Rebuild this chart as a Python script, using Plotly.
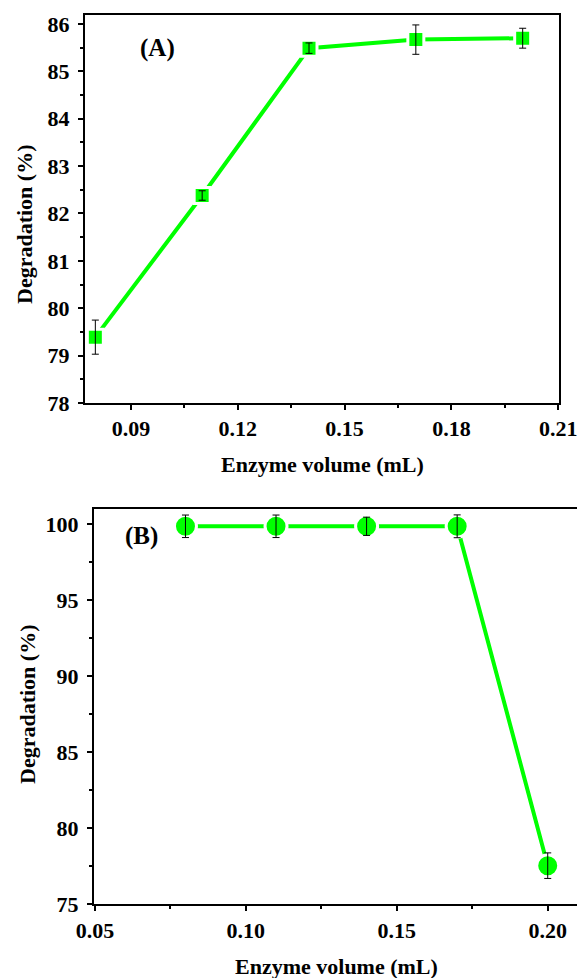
import plotly.graph_objects as go

# ---- data ----
vol_a = [0.08, 0.11, 0.14, 0.17, 0.20]
deg_a = [79.39, 82.38, 85.49, 85.67, 85.70]
err_a = [0.36, 0.10, 0.11, 0.31, 0.21]

vol_b = [0.08, 0.11, 0.14, 0.17, 0.20]
deg_b = [99.85, 99.85, 99.85, 99.85, 77.54]
err_b = [0.74, 0.74, 0.60, 0.75, 0.84]

xt_a = [0.09, 0.12, 0.15, 0.18, 0.21]
yt_a = [78, 79, 80, 81, 82, 83, 84, 85, 86]
xt_b = [0.05, 0.10, 0.15, 0.20]
yt_b = [75, 80, 85, 90, 95, 100]

GREEN = "#00ff00"
FONT = "Liberation Serif, Times New Roman, serif"
W, H = 577, 978

fig = go.Figure()

# panel A
fig.add_trace(go.Scatter(x=vol_a, y=deg_a, mode="lines+markers",
                         line=dict(color=GREEN, width=4),
                         marker=dict(symbol="square", size=16, color=GREEN,
                                     line=dict(color="white", width=3)),
                         xaxis="x", yaxis="y", showlegend=False))
fig.add_trace(go.Scatter(x=vol_a, y=deg_a, mode="markers",
                         marker=dict(size=1, color="rgba(0,0,0,0)"),
                         error_y=dict(type="data", array=err_a, color="black",
                                      thickness=1, width=3.5),
                         xaxis="x", yaxis="y", showlegend=False))
# panel B
fig.add_trace(go.Scatter(x=vol_b, y=deg_b, mode="lines+markers",
                         line=dict(color=GREEN, width=4),
                         marker=dict(symbol="circle", size=22, color=GREEN,
                                     line=dict(color="white", width=3)),
                         xaxis="x2", yaxis="y2", showlegend=False))
fig.add_trace(go.Scatter(x=vol_b, y=deg_b, mode="markers",
                         marker=dict(size=1, color="rgba(0,0,0,0)"),
                         error_y=dict(type="data", array=err_b, color="black",
                                      thickness=1, width=3.5),
                         xaxis="x2", yaxis="y2", showlegend=False))

tickfont = dict(family=FONT, size=22, color="black", weight="bold")
common = dict(showgrid=False, zeroline=False, showline=True, linecolor="black",
              linewidth=2, ticks="outside", ticklen=5, tickwidth=2,
              tickcolor="black", tickfont=tickfont, mirror=True,
              automargin=False, ticklabeloverflow="allow")


def bold(vals, fmt):
    return ["<b>" + format(v, fmt) + "</b>" for v in vals]


A_L, A_R, A_T, A_B = 85, 559, 14.7, 403
B_L, B_R, B_T, B_B = 94, 577, 508.5, 904.3

fig.update_layout(
    width=W, height=H, margin=dict(l=0, r=0, t=0, b=0, autoexpand=False),
    paper_bgcolor="white", plot_bgcolor="white",
    xaxis=dict(domain=[A_L / W, A_R / W], range=[0.0771, 0.2102],
               tickvals=xt_a, ticktext=bold(xt_a, ".2f"), ticklabelstandoff=0,
               minor=dict(dtick=0.015, tick0=0.075, ticks="outside", ticklen=3,
                          tickwidth=2, tickcolor="black"),
               anchor="y", **common),
    yaxis=dict(domain=[1 - A_B / H, 1 - A_T / H], range=[78, 86.196],
               tickvals=yt_a, ticktext=bold(yt_a, "d"), ticklabelstandoff=4,
               minor=dict(dtick=0.5, tick0=78, ticks="outside", ticklen=3,
                          tickwidth=2, tickcolor="black"),
               anchor="x", **common),
    xaxis2=dict(domain=[B_L / W, B_R / W], range=[0.0497, 0.2097],
                tickvals=xt_b, ticktext=bold(xt_b, ".2f"), ticklabelstandoff=0,
                minor=dict(dtick=0.025, tick0=0.05, ticks="outside", ticklen=3,
                           tickwidth=2, tickcolor="black"),
                anchor="y2", **common),
    yaxis2=dict(domain=[1 - B_B / H, 1 - B_T / H], range=[75, 101.02],
                tickvals=yt_b, ticktext=bold(yt_b, "d"), ticklabelstandoff=4,
                minor=dict(dtick=2.5, tick0=75, ticks="outside", ticklen=3,
                           tickwidth=2, tickcolor="black"),
                anchor="x2", **common),
)

titlefont = dict(family=FONT, size=22, color="black", weight="bold")
labfont = dict(family=FONT, size=25, color="black", weight="bold")
ann = [
    dict(text="<b>Enzyme volume (mL)</b>", x=322 / W, y=1 - 464 / H),
    dict(text="<b>Degradation (%)</b>", x=24 / W, y=1 - 225 / H, textangle=-90),
    dict(text="<b>Enzyme volume (mL)</b>", x=336 / W, y=1 - 966 / H),
    dict(text="<b>Degradation (%)</b>", x=27 / W, y=1 - 705 / H, textangle=-90),
]
for a in ann:
    fig.add_annotation(xref="paper", yref="paper", showarrow=False,
                       xanchor="center", yanchor="middle", font=titlefont, **a)
fig.add_annotation(text="<b>(A)</b>", x=157 / W, y=1 - 48 / H, xref="paper",
                   yref="paper", showarrow=False, xanchor="center",
                   yanchor="middle", font=labfont)
fig.add_annotation(text="<b>(B)</b>", x=141 / W, y=1 - 536 / H, xref="paper",
                   yref="paper", showarrow=False, xanchor="center",
                   yanchor="middle", font=labfont)

fig.write_html("out.html")
